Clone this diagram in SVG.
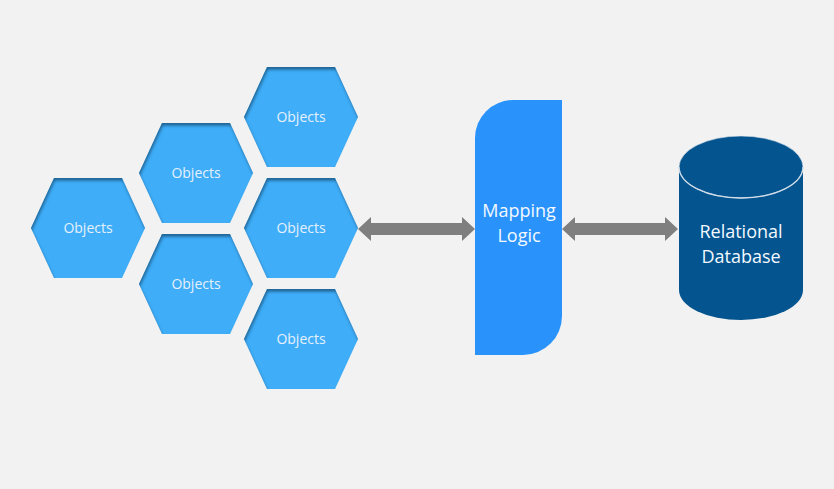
<svg xmlns="http://www.w3.org/2000/svg" width="834" height="489" viewBox="0 0 834 489">
<defs>
<style>
.hex{fill:#41adf8;filter:url(#inner)}
.ht{font-family:"Open Sans","Liberation Sans",sans-serif;font-size:14px;fill:#e4f1fc;text-anchor:middle}
.lt{font-family:"Open Sans","Liberation Sans",sans-serif;font-size:18px;fill:#f4f9ff;text-anchor:middle}
.arr{fill:#7f7f7f}
</style>
<filter id="inner" x="-10%" y="-10%" width="120%" height="120%">
<feFlood flood-color="#0a3556" flood-opacity="0.75"/>
<feComposite in2="SourceAlpha" operator="out"/>
<feOffset dx="1" dy="3"/>
<feGaussianBlur stdDeviation="1.5"/>
<feComposite in2="SourceAlpha" operator="in" result="sh"/>
<feMerge><feMergeNode in="SourceGraphic"/><feMergeNode in="sh"/></feMerge>
</filter>
<polygon id="hx" points="-57,0 -34,-50 34,-50 57,0 34,50 -34,50"/>
</defs>
<rect width="834" height="489" fill="#f2f2f2"/>
<g id="obj1" transform="translate(88,228)"><use href="#hx" class="hex"/><text class="ht" y="5">Objects</text></g>
<g id="obj2" transform="translate(196,173)"><use href="#hx" class="hex"/><text class="ht" y="5">Objects</text></g>
<g id="obj3" transform="translate(196,284)"><use href="#hx" class="hex"/><text class="ht" y="5">Objects</text></g>
<g id="obj4" transform="translate(301,117)"><use href="#hx" class="hex"/><text class="ht" y="5">Objects</text></g>
<g id="obj5" transform="translate(301,228)"><use href="#hx" class="hex"/><text class="ht" y="5">Objects</text></g>
<g id="obj6" transform="translate(301,339)"><use href="#hx" class="hex"/><text class="ht" y="5">Objects</text></g>
<g id="mapping">
<path d="M475,355 L475,138 A38,38 0 0 1 513,100 L562,100 L562,316 A39,39 0 0 1 523,355 Z" fill="#2993fb"/>
<text class="lt" x="519" y="217">Mapping</text>
<text class="lt" x="519" y="242">Logic</text>
</g>
<g id="database">
<path d="M679,167 L679,290 A62,30 0 0 0 803,290 L803,167 Z" fill="#03548f"/>
<ellipse cx="741" cy="167" rx="62" ry="31" fill="#03548f" stroke="#e0e8f0" stroke-width="0.6"/>
<path d="M679,167 A62,31 0 0 0 803,167" fill="none" stroke="#d2dde8" stroke-width="1.3"/>
<text class="lt" x="741" y="238">Relational</text>
<text class="lt" x="741" y="263">Database</text>
</g>
<g id="connectors">
<polygon class="arr" points="358,229 371,217 371,223 462,223 462,217 475,229 462,241 462,235 371,235 371,241"/>
<polygon class="arr" points="562,229 575,217 575,223 665,223 665,217 678,229 665,241 665,235 575,235 575,241"/>
</g>
</svg>
